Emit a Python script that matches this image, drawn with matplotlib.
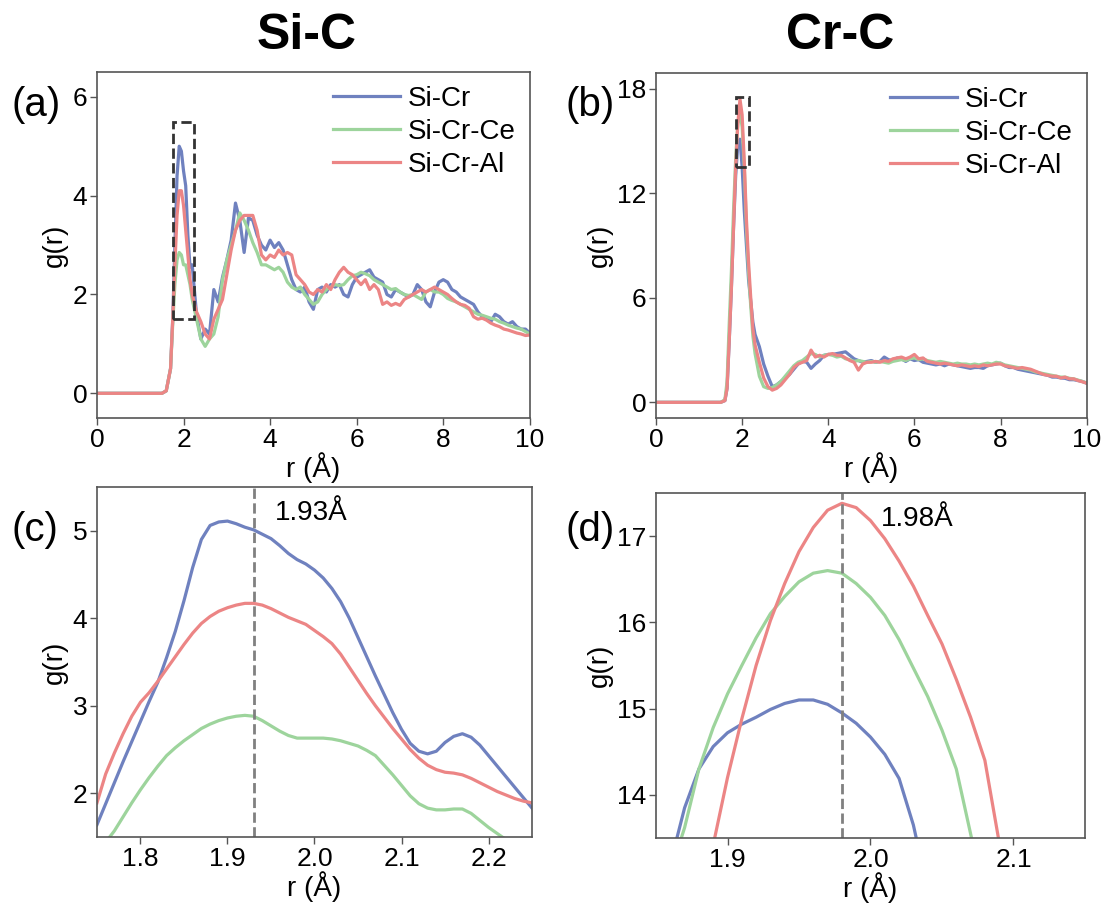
import numpy as np
import matplotlib
matplotlib.use('Agg')
import matplotlib.pyplot as plt
from matplotlib.patches import Rectangle

plt.rcParams['font.family'] = ['Liberation Sans', 'DejaVu Sans']

#%% Datos g(r) Si-C (panel a)
r_a = [0.0, 1.5, 1.6, 1.7, 1.75, 1.8, 1.85, 1.9, 1.95, 2.0, 2.05, 2.1, 2.15, 2.2,
       2.3, 2.4, 2.5, 2.6, 2.7, 2.8, 2.9, 3.0, 3.1, 3.2, 3.3, 3.4, 3.5, 3.6, 3.7, 3.8, 3.9,
       4.0, 4.1, 4.2, 4.3, 4.4, 4.5, 4.6, 4.7, 4.8, 4.9, 5.0, 5.1, 5.2, 5.3, 5.4, 5.5,
       5.6, 5.7, 5.8, 5.9, 6.0, 6.1, 6.2, 6.3, 6.4, 6.5, 6.6, 6.7, 6.8, 6.9, 7.0, 7.1,
       7.2, 7.3, 7.4, 7.5, 7.6, 7.7, 7.8, 7.9, 8.0, 8.1, 8.2, 8.3, 8.4, 8.5, 8.6, 8.7,
       8.8, 8.9, 9.0, 9.1, 9.2, 9.3, 9.4, 9.5, 9.6, 9.7, 9.8, 9.9, 10.0]

sic_cr = [0, 0, 0.05, 0.5, 1.5, 3.0, 4.4, 5.0, 4.9, 4.5, 4.2, 3.2, 2.55, 2.6,
          1.6, 1.1, 1.3, 1.2, 2.1, 1.85, 2.35, 2.7, 3.1, 3.85, 3.5, 2.85, 3.55, 3.5, 3.2, 3.0, 2.9,
          3.1, 2.95, 3.05, 2.9, 2.6, 2.3, 2.1, 2.05, 2.15, 1.85, 1.7, 2.1, 2.15, 2.05, 2.2, 2.15,
          2.2, 2.0, 1.95, 2.2, 2.35, 2.4, 2.45, 2.5, 2.35, 2.3, 2.25, 2.0, 1.95, 2.1, 2.05, 2.0,
          1.95, 2.0, 2.2, 2.1, 1.85, 1.75, 2.05, 2.25, 2.3, 2.25, 2.1, 2.05, 1.95, 1.9, 1.85, 1.8,
          1.65, 1.55, 1.5, 1.45, 1.6, 1.55, 1.45, 1.4, 1.45, 1.35, 1.3, 1.3, 1.22]

sic_ce = [0, 0, 0.05, 0.5, 1.4, 2.2, 2.7, 2.85, 2.8, 2.6, 2.6, 2.4, 2.2, 1.9,
          1.5, 1.1, 0.95, 1.1, 1.2, 1.55, 2.3, 2.7, 3.0, 3.3, 3.65, 3.5, 3.3, 3.05, 2.85, 2.6, 2.6,
          2.55, 2.5, 2.55, 2.45, 2.25, 2.15, 2.1, 2.15, 2.0, 1.9, 1.8, 1.85, 2.0, 2.1, 2.15, 2.2,
          2.18, 2.2, 2.3, 2.38, 2.4, 2.45, 2.42, 2.38, 2.3, 2.25, 2.2, 2.15, 2.1, 2.12, 2.05, 2.0,
          1.98, 2.0, 1.95, 1.9, 2.05, 2.1, 2.05, 2.05, 2.0, 1.92, 1.88, 1.85, 1.8, 1.75, 1.7, 1.65,
          1.6, 1.58, 1.55, 1.52, 1.5, 1.45, 1.42, 1.38, 1.35, 1.32, 1.3, 1.25, 1.2]

sic_al = [0, 0, 0.05, 0.5, 1.5, 2.6, 3.6, 4.1, 4.1, 3.8, 3.3, 2.8, 2.3, 2.0,
          1.65, 1.45, 1.2, 1.1, 1.5, 1.7, 1.9, 2.4, 2.9, 3.3, 3.5, 3.6, 3.6, 3.6, 3.3, 2.8, 2.7,
          2.8, 2.75, 2.9, 2.8, 2.85, 2.8, 2.4, 2.3, 2.2, 2.05, 2.0, 2.1, 2.05, 2.2, 2.1, 2.3,
          2.45, 2.55, 2.45, 2.4, 2.3, 2.2, 2.3, 2.1, 2.2, 2.1, 1.8, 1.85, 1.78, 1.82, 1.78, 1.9,
          1.95, 2.0, 2.05, 2.1, 2.05, 2.1, 2.15, 2.1, 2.05, 2.0, 1.92, 1.85, 1.8, 1.78, 1.72, 1.55,
          1.5, 1.52, 1.48, 1.42, 1.38, 1.35, 1.3, 1.28, 1.25, 1.22, 1.2, 1.17, 1.18]

#%% Datos g(r) Cr-C (panel b)
r_b = [0.0, 1.5, 1.6, 1.65, 1.7, 1.75, 1.8, 1.85, 1.9, 1.95, 2.0, 2.05, 2.1, 2.15, 2.2, 2.25,
       2.3, 2.4, 2.5, 2.6, 2.7, 2.8, 2.9, 3.0, 3.1, 3.2, 3.3, 3.4, 3.5, 3.6, 3.7, 3.8, 3.9,
       4.0, 4.1, 4.2, 4.3, 4.4, 4.5, 4.6, 4.7, 4.8, 4.9, 5.0, 5.1, 5.2, 5.3, 5.4, 5.5,
       5.6, 5.7, 5.8, 5.9, 6.0, 6.1, 6.2, 6.3, 6.4, 6.5, 6.6, 6.7, 6.8, 6.9, 7.0, 7.1,
       7.2, 7.3, 7.4, 7.5, 7.6, 7.7, 7.8, 7.9, 8.0, 8.1, 8.2, 8.3, 8.4, 8.5, 8.6, 8.7,
       8.8, 8.9, 9.0, 9.1, 9.2, 9.3, 9.4, 9.5, 9.6, 9.7, 9.8, 9.9, 10.0]

crc_cr = [0, 0, 0.1, 0.8, 3.5, 6.5, 10.0, 13.0, 14.8, 15.1, 13.5, 11.0, 9.0, 7.0, 5.8, 4.6,
          3.9, 3.2, 2.2, 1.5, 0.9, 1.0, 1.2, 1.4, 1.6, 1.9, 2.2, 2.35, 2.3, 1.95, 2.2, 2.4, 2.7,
          2.75, 2.75, 2.8, 2.85, 2.9, 2.7, 2.5, 2.4, 2.3, 2.35, 2.4, 2.3, 2.35, 2.6, 2.45, 2.4,
          2.55, 2.5, 2.35, 2.5, 2.4, 2.45, 2.3, 2.25, 2.2, 2.15, 2.2, 2.1, 2.2, 2.15, 2.1, 2.05,
          2.0, 1.95, 2.0, 2.0, 1.95, 2.1, 2.15, 2.2, 2.25, 2.1, 2.0, 2.0, 1.9, 1.85, 1.8, 1.75,
          1.7, 1.65, 1.6, 1.55, 1.45, 1.45, 1.4, 1.38, 1.3, 1.3, 1.25, 1.2, 1.1]

crc_ce = [0, 0, 0.15, 1.2, 4.5, 7.5, 11.0, 14.0, 16.0, 16.6, 15.8, 13.5, 10.0, 7.5, 5.5, 3.8,
          2.8, 1.5, 0.9, 0.8, 0.85, 1.0, 1.2, 1.5, 1.8, 2.1, 2.3, 2.4, 2.6, 2.8, 2.75, 2.6, 2.7,
          2.75, 2.7, 2.6, 2.65, 2.5, 2.45, 2.35, 2.4, 2.35, 2.3, 2.35, 2.3, 2.35, 2.3, 2.25, 2.35,
          2.4, 2.45, 2.4, 2.5, 2.55, 2.45, 2.5, 2.4, 2.35, 2.3, 2.35, 2.3, 2.25, 2.2, 2.25, 2.2,
          2.2, 2.15, 2.2, 2.15, 2.2, 2.25, 2.2, 2.3, 2.25, 2.15, 2.1, 2.05, 2.0, 1.95, 1.9, 1.85,
          1.75, 1.7, 1.65, 1.6, 1.55, 1.5, 1.45, 1.45, 1.38, 1.35, 1.28, 1.2, 1.12]

crc_al = [0, 0, 0.1, 0.8, 3.5, 6.5, 10.0, 13.5, 16.0, 17.4, 16.5, 13.8, 10.5, 8.0, 6.0, 4.2,
          3.3, 2.3, 1.4, 0.9, 0.7, 0.8, 1.0, 1.3, 1.6, 2.0, 2.2, 2.3, 2.4, 3.0, 2.6, 2.7, 2.6,
          2.75, 2.8, 2.7, 2.7, 2.55, 2.4, 2.3, 1.85, 2.2, 2.3, 2.3, 2.35, 2.3, 2.4, 2.35, 2.5,
          2.55, 2.6, 2.5, 2.6, 2.75, 2.5, 2.55, 2.35, 2.3, 2.25, 2.2, 2.25, 2.2, 2.15, 2.1, 2.15,
          2.1, 2.05, 2.1, 2.05, 2.15, 2.1, 2.15, 2.2, 2.2, 2.1, 2.05, 2.0, 1.95, 2.0, 1.95, 1.9,
          1.8, 1.7, 1.6, 1.55, 1.5, 1.5, 1.4, 1.45, 1.35, 1.35, 1.25, 1.18, 1.1]

#%% Zoom del primer pico Si-C (panel c)
r_c = [1.75, 1.76, 1.77, 1.78, 1.79, 1.80, 1.81, 1.82, 1.83, 1.84, 1.85, 1.86, 1.87,
       1.88, 1.89, 1.90, 1.91, 1.92, 1.93, 1.94, 1.95, 1.96, 1.97, 1.98, 1.99, 2.00,
       2.01, 2.02, 2.03, 2.04, 2.05, 2.06, 2.07, 2.08, 2.09, 2.10, 2.11, 2.12, 2.13,
       2.14, 2.15, 2.16, 2.17, 2.18, 2.19, 2.20, 2.21, 2.22, 2.23, 2.24, 2.25]

zc_cr = [1.64, 1.88, 2.12, 2.36, 2.59, 2.82, 3.05, 3.27, 3.55, 3.85, 4.2, 4.58, 4.9,
         5.06, 5.10, 5.11, 5.08, 5.04, 5.01, 4.96, 4.91, 4.83, 4.74, 4.67, 4.62, 4.55,
         4.46, 4.34, 4.19, 4.0, 3.78, 3.56, 3.34, 3.13, 2.92, 2.73, 2.57, 2.48, 2.45,
         2.48, 2.58, 2.65, 2.68, 2.64, 2.55, 2.43, 2.31, 2.19, 2.07, 1.95, 1.83]

zc_ce = [1.32, 1.44, 1.57, 1.73, 1.89, 2.04, 2.18, 2.31, 2.43, 2.52, 2.60, 2.67, 2.74,
         2.79, 2.83, 2.86, 2.88, 2.89, 2.88, 2.83, 2.77, 2.71, 2.66, 2.63, 2.63, 2.63,
         2.63, 2.62, 2.60, 2.57, 2.54, 2.49, 2.43, 2.32, 2.21, 2.09, 1.97, 1.88, 1.83,
         1.81, 1.81, 1.82, 1.82, 1.77, 1.69, 1.61, 1.54, 1.47, 1.40, 1.33, 1.26]

zc_al = [1.89, 2.22, 2.46, 2.68, 2.88, 3.04, 3.15, 3.28, 3.42, 3.56, 3.70, 3.83, 3.94,
         4.02, 4.08, 4.12, 4.15, 4.17, 4.17, 4.15, 4.11, 4.06, 4.01, 3.97, 3.93, 3.86,
         3.79, 3.71, 3.59, 3.44, 3.29, 3.14, 3.0, 2.87, 2.74, 2.62, 2.5, 2.4, 2.32,
         2.27, 2.24, 2.23, 2.21, 2.17, 2.12, 2.07, 2.02, 1.98, 1.94, 1.91, 1.89]

#%% Zoom del primer pico Cr-C (panel d)
r_d = [1.86, 1.87, 1.88, 1.89, 1.90, 1.91, 1.92, 1.93, 1.94, 1.95, 1.96, 1.97, 1.98,
       1.99, 2.00, 2.01, 2.02, 2.03, 2.04, 2.05, 2.06, 2.07, 2.08, 2.09, 2.10]

zd_cr = [13.2, 13.85, 14.3, 14.56, 14.72, 14.82, 14.9, 14.99, 15.06, 15.1, 15.1, 15.05, 14.95,
         14.83, 14.67, 14.47, 14.19, 13.65, 12.9, 12.0, 11.0, 10.0, 9.0, 8.0, 7.0]

zd_ce = [13.1, 13.62, 14.3, 14.78, 15.17, 15.5, 15.82, 16.1, 16.3, 16.47, 16.57, 16.6, 16.57,
         16.45, 16.29, 16.08, 15.8, 15.47, 15.14, 14.75, 14.3, 13.55, 12.8, 12.0, 11.2]

zd_al = [11.5, 12.3, 13.0, 13.42, 14.2, 14.88, 15.5, 16.02, 16.45, 16.82, 17.1, 17.3, 17.38,
         17.33, 17.18, 16.97, 16.71, 16.42, 16.08, 15.75, 15.34, 14.9, 14.4, 13.45, 12.5]

etiquetas = ['Si-Cr', 'Si-Cr-Ce', 'Si-Cr-Al']
colores = ['#6f81bf', '#9dd49c', '#ec8585']

#%% Graficos
fig = plt.figure(figsize=(11.07, 9.08), dpi=100)
ax_a = fig.add_axes([0.0876, 0.5396, 0.391, 0.381])
ax_b = fig.add_axes([0.5926, 0.5396, 0.389, 0.380])
ax_c = fig.add_axes([0.0876, 0.0782, 0.393, 0.3855])
ax_d = fig.add_axes([0.5926, 0.0771, 0.3875, 0.380])

lw = 2.3
for ax, r, series in [(ax_a, r_a, [sic_cr, sic_ce, sic_al]),
                      (ax_b, r_b, [crc_cr, crc_ce, crc_al]),
                      (ax_c, r_c, [zc_cr, zc_ce, zc_al]),
                      (ax_d, r_d, [zd_cr, zd_ce, zd_al])]:
    for g, lab, col in zip(series, etiquetas, colores):
        ax.plot(r, g, color=col, lw=lw, label=lab)

# limites y ticks
ax_a.set_xlim(0, 10)
ax_a.set_ylim(-0.5, 6.5)
ax_a.set_xticks([0, 2, 4, 6, 8, 10])
ax_a.set_yticks([0, 2, 4, 6])

ax_b.set_xlim(0, 10)
ax_b.set_ylim(-0.9, 18.9)
ax_b.set_xticks([0, 2, 4, 6, 8, 10])
ax_b.set_yticks([0, 6, 12, 18])

ax_c.set_xlim(1.75, 2.25)
ax_c.set_ylim(1.5, 5.5)
ax_c.set_xticks([1.8, 1.9, 2.0, 2.1, 2.2])
ax_c.set_yticks([2, 3, 4, 5])

ax_d.set_xlim(1.85, 2.15)
ax_d.set_ylim(13.5, 17.5)
ax_d.set_xticks([1.9, 2.0, 2.1])
ax_d.set_yticks([14, 15, 16, 17])

# recuadros del zoom
ax_a.add_patch(Rectangle((1.75, 1.5), 0.5, 4.0, fill=False, ls='--', lw=2, ec='#333333', zorder=5))
ax_b.add_patch(Rectangle((1.85, 13.5), 0.3, 4.0, fill=False, ls='--', lw=2, ec='#333333', zorder=5))

# posicion del pico
ax_c.axvline(1.93, ls='--', color='#808080', lw=2)
ax_d.axvline(1.98, ls='--', color='#808080', lw=2)
ax_c.text(1.955, 5.2, '1.93Å', fontsize=20, va='center')
ax_d.text(2.007, 17.2, '1.98Å', fontsize=20, va='center')

for ax in [ax_a, ax_b, ax_c, ax_d]:
    ax.set_xlabel('r (Å)', fontsize=20, labelpad=0)
    ax.set_ylabel('g(r)', fontsize=20, labelpad=3)
    ax.tick_params(labelsize=19, direction='out', length=5, width=1, color='#555555', pad=2)
    for s in ax.spines.values():
        s.set_color('#555555')
        s.set_linewidth(1.2)

for ax in [ax_a, ax_b]:
    ax.legend(loc='upper right', frameon=False, fontsize=20, handlelength=2.4,
              handletextpad=0.3, labelspacing=0.25, borderaxespad=0.1)

fig.text(12/1107, 1 - 105/908, '(a)', fontsize=29, va='center', ha='left')
fig.text(565/1107, 1 - 105/908, '(b)', fontsize=29, va='center', ha='left')
fig.text(12/1107, 1 - 530/908, '(c)', fontsize=29, va='center', ha='left')
fig.text(565/1107, 1 - 530/908, '(d)', fontsize=29, va='center', ha='left')

fig.text(307/1107, 1 - 36/908, 'Si-C', fontsize=36, fontweight='bold', ha='center', va='center')
fig.text(840/1107, 1 - 36/908, 'Cr-C', fontsize=36, fontweight='bold', ha='center', va='center')

fig.savefig('out.png', dpi=100)
